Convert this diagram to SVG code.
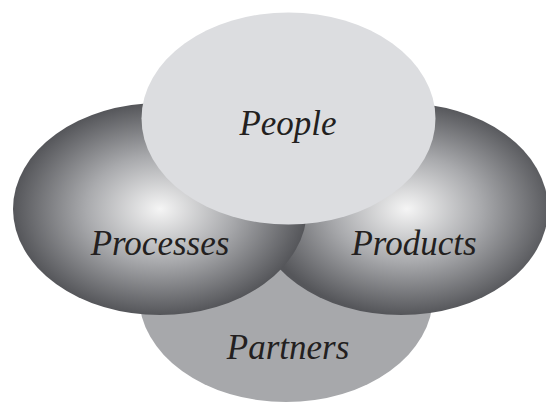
<svg xmlns="http://www.w3.org/2000/svg" width="546" height="403" viewBox="0 0 546 403">
  <defs>
    <radialGradient id="shade" cx="0.5" cy="0.5" r="0.5">
      <stop offset="0" stop-color="#f5f5f5"/>
      <stop offset="0.5" stop-color="#a9aaad"/>
      <stop offset="1" stop-color="#55565a"/>
    </radialGradient>
    <radialGradient id="shade2" cx="0.52" cy="0.5" r="0.5" fx="0.52" fy="0.5">
      <stop offset="0" stop-color="#f5f5f5"/>
      <stop offset="0.5" stop-color="#a9aaad"/>
      <stop offset="1" stop-color="#55565a"/>
    </radialGradient>
  </defs>
  <style>
    .lbl { font-family: "Liberation Serif", "DejaVu Serif", serif; font-style: italic; font-size: 35px; fill: #231f20; text-anchor: middle; }
  </style>
  <rect width="546" height="403" fill="#ffffff"/>
  <g id="partners">
    <ellipse cx="286" cy="296" rx="147" ry="106" fill="#a7a8ab"/>
  </g>
  <g id="products">
    <ellipse cx="401" cy="209" rx="147" ry="106" fill="url(#shade2)"/>
  </g>
  <g id="processes">
    <ellipse cx="160" cy="209" rx="147" ry="106" fill="url(#shade)"/>
  </g>
  <g id="people">
    <ellipse cx="288.5" cy="118.5" rx="147" ry="106" fill="#dcdde0"/>
  </g>
  <g id="connectors"></g>
  <g id="labels">
    <text class="lbl" x="288" y="135">People</text>
    <text class="lbl" x="160" y="255">Processes</text>
    <text class="lbl" x="414" y="255">Products</text>
    <text class="lbl" x="288" y="359">Partners</text>
  </g>
</svg>
